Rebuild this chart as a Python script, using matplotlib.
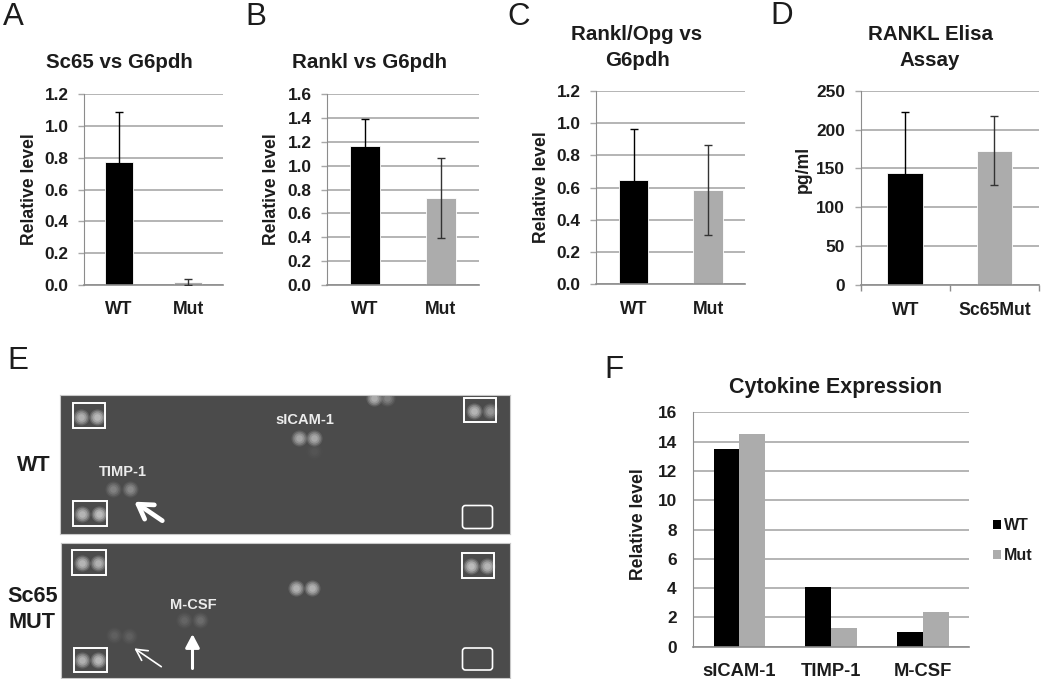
#!/usr/bin/python

import matplotlib
matplotlib.use('Agg')
import matplotlib.pyplot as plt
from matplotlib.patches import FancyBboxPatch, Rectangle

plt.rcParams['font.family'] = ['Liberation Sans', 'DejaVu Sans']

W, H = 1050, 679

BLACK = '#000000'
GREY = '#acacac'
GRID = '#a8a8a8'
AXIS = '#8c8c8c'
INK = '#1c1c1c'
BLOT = '#4b4b4b'

# bar panels
a_cats = ['WT', 'Mut']
a_vals = [0.775, 0.015]
a_errs = [0.315, 0.02]
a_ticks = [0.0, 0.2, 0.4, 0.6, 0.8, 1.0, 1.2]

b_cats = ['WT', 'Mut']
b_vals = [1.165, 0.73]
b_errs = [0.23, 0.335]
b_ticks = [0.0, 0.2, 0.4, 0.6, 0.8, 1.0, 1.2, 1.4, 1.6]

c_cats = ['WT', 'Mut']
c_vals = [0.645, 0.585]
c_errs = [0.32, 0.28]
c_ticks = [0.0, 0.2, 0.4, 0.6, 0.8, 1.0, 1.2]

d_cats = ['WT', 'Sc65Mut']
d_vals = [144, 173]
d_errs = [78, 44]
d_ticks = [0, 50, 100, 150, 200, 250]

# cytokine panel
f_cats = ['sICAM-1', 'TIMP-1', 'M-CSF']
f_wt = [13.5, 4.05, 1.0]
f_mut = [14.5, 1.25, 2.4]
f_ticks = [0, 2, 4, 6, 8, 10, 12, 14, 16]

# blot spots, image pixels: x, y, brightness
wt_spots = [(80.5, 417.5, 0.8), (97, 417.5, 0.9), (82, 513.5, 0.85), (98.5, 513.5, 0.95),
            (473.5, 411.5, 0.85), (489.5, 411.5, 0.5), (298.5, 438.5, 0.65), (314, 438.5, 0.7),
            (113, 488.5, 0.35), (129.5, 488.5, 0.4), (374, 398.5, 0.75), (387, 398, 0.35),
            (313.5, 451, 0.06)]
mut_spots = [(81.5, 563.5, 0.85), (98, 563.5, 0.8), (81.5, 660, 0.8), (97.5, 660, 0.9),
             (470.5, 566, 0.95), (486.5, 566, 0.85), (295.5, 588.5, 0.8), (311.5, 588.5, 0.8),
             (184, 620, 0.15), (199.5, 620, 0.2), (113.5, 635.5, 0.12), (128.5, 636, 0.12)]
wt_boxes = [(72.5, 403.5, 32, 24.5), (73, 500.5, 33.5, 25.5), (463.5, 398, 32, 24.5)]
mut_boxes = [(72, 550, 33.5, 25), (73.5, 648, 33, 24.5), (461.5, 553.5, 32, 24.5)]
wt_empty = (462.5, 505.5, 30, 23)
mut_empty = (462.5, 648, 30, 22)


def px_axes(fig, left, right, top, bottom):
    return fig.add_axes([left / W, 1 - bottom / H, (right - left) / W, (bottom - top) / H])


def px_text(fig, x, y, s, **kw):
    kw.setdefault('ha', 'center')
    kw.setdefault('va', 'center')
    kw.setdefault('color', INK)
    fig.text(x / W, 1 - y / H, s, **kw)


def style_axes(ax, ticks, fmt, cat_pos, cats, xsize=12.7):
    ax.set_ylim(ticks[0], ticks[-1])
    ax.set_yticks(ticks)
    ax.set_yticklabels([fmt.format(t) for t in ticks], fontsize=12.4, fontweight='bold', color=INK)
    ax.set_xticks(cat_pos)
    ax.set_xticklabels(cats, fontsize=xsize, fontweight='bold', color=INK)
    ax.tick_params(axis='x', length=0, pad=12)
    ax.tick_params(axis='y', length=4.3, width=1, color=GRID, pad=7)
    ax.grid(axis='y', color=GRID, linewidth=1.2)
    ax.set_axisbelow(True)
    for side in ('top', 'right'):
        ax.spines[side].set_visible(False)
    ax.spines['left'].set_color(AXIS)
    ax.spines['bottom'].set_color(AXIS)
    ax.spines['bottom'].set_linewidth(1.2)


def bar_panel(fig, rect, cats, vals, errs, ticks, fmt, ylabel, label_x, label_y):
    ax = px_axes(fig, *rect)
    pos = list(range(len(cats)))
    ax.bar(pos, vals, width=0.4, color=[BLACK, GREY], edgecolor='white', linewidth=0.6, zorder=2)
    # black on the WT bar so the lower half stays hidden in it
    ax.errorbar(pos[:1], vals[:1], yerr=errs[:1], fmt='none', ecolor=BLACK, elinewidth=1,
                capsize=3, capthick=1, zorder=3)
    ax.errorbar(pos[1:], vals[1:], yerr=errs[1:], fmt='none', ecolor='#333333', elinewidth=1,
                capsize=3, capthick=1, zorder=3)
    ax.set_xlim(-0.5, 1.5)
    style_axes(ax, ticks, fmt, pos, cats)
    px_text(fig, label_x, label_y, ylabel, rotation=90, fontsize=12.7, fontweight='bold')
    return ax


def blot_panel(fig, rect, spots, boxes, empty):
    left, right, top, bottom = rect
    ax = px_axes(fig, left, right, top, bottom)
    ax.set_xlim(left, right)
    ax.set_ylim(bottom, top)
    ax.set_facecolor(BLOT)
    ax.set_xticks([])
    ax.set_yticks([])
    for s in ax.spines.values():
        s.set_color('#c8c8c8')
        s.set_linewidth(0.8)
    # soft spots: stacked discs getting lighter to the centre
    for x, y, b in spots:
        for size, alpha in ((135, 0.2), (95, 0.3), (55, 0.42), (22, 0.45)):
            ax.scatter([x], [y], s=size, color='#d8d8d8', alpha=alpha * b, linewidths=0, zorder=2)
    for x, y, w, h in boxes:
        ax.add_patch(Rectangle((x, y), w, h, fill=False, edgecolor='white', linewidth=1.4, zorder=4))
    x, y, w, h = empty
    ax.add_patch(FancyBboxPatch((x + 3, y + 3), w - 6, h - 6, boxstyle='round,pad=3',
                                fill=False, edgecolor='white', linewidth=1.2, zorder=4))
    return ax


def main():
    fig = plt.figure(figsize=(W / 100, H / 100), dpi=100, facecolor='white')

    bar_panel(fig, (84.3, 223, 94.3, 284.7), a_cats, a_vals, a_errs, a_ticks, '{:.1f}', 'Relative level', 29, 189.5)
    bar_panel(fig, (327.3, 478.7, 94.3, 284.7), b_cats, b_vals, b_errs, b_ticks, '{:.1f}', 'Relative level', 272, 189.5)
    bar_panel(fig, (596.3, 745.3, 90.7, 284.3), c_cats, c_vals, c_errs, c_ticks, '{:.1f}', 'Relative level', 542, 187.5)
    ax = bar_panel(fig, (860.7, 1039, 90.7, 285), d_cats, d_vals, d_errs, d_ticks, '{:d}', 'pg/ml', 803.5, 169)
    ax.set_xticks([-0.5, 0.5, 1.5], minor=True)
    ax.tick_params(axis='x', which='minor', length=4, width=1, color=AXIS)

    title = dict(fontsize=14.8, fontweight='bold')
    px_text(fig, 119.5, 62, 'Sc65 vs G6pdh', **title)
    px_text(fig, 369, 62, 'Rankl vs G6pdh', **title)
    px_text(fig, 637, 35, 'Rankl/Opg vs', **title)
    px_text(fig, 637, 60, 'G6pdh', **title)
    px_text(fig, 930, 35, 'RANKL Elisa', **title)
    px_text(fig, 930, 60, 'Assay', **title)

    letter = dict(fontsize=22.5)
    px_text(fig, 13.5, 17, 'A', **letter)
    px_text(fig, 255.5, 17, 'B', **letter)
    px_text(fig, 519, 17, 'C', **letter)
    px_text(fig, 782, 16, 'D', **letter)
    px_text(fig, 17.5, 361, 'E', **letter)
    px_text(fig, 614, 370, 'F', **letter)

    # blots
    blot_wt = blot_panel(fig, (60.3, 510, 394.7, 534), wt_spots, wt_boxes, wt_empty)
    blot_mut = blot_panel(fig, (61.3, 510, 543.3, 678.3), mut_spots, mut_boxes, mut_empty)

    blot_wt.annotate('', xy=(134.3, 501.7), xytext=(162.3, 520.7),
                     arrowprops=dict(arrowstyle='->,head_width=0.62,head_length=1.0', color='white',
                                     lw=3.4, shrinkA=0, shrinkB=0), zorder=5)
    blot_mut.annotate('', xy=(134.3, 648.3), xytext=(161.3, 666.7),
                      arrowprops=dict(arrowstyle='->,head_width=0.42,head_length=0.8', color='white',
                                      lw=1.2, shrinkA=0, shrinkB=0), zorder=5)
    blot_mut.annotate('', xy=(192.5, 634), xytext=(192.5, 668.5),
                      arrowprops=dict(arrowstyle='-|>,head_width=0.42,head_length=0.8', color='white',
                                      lw=2.2, shrinkA=0, shrinkB=0), zorder=5)

    spot_label = dict(fontsize=10.5, fontweight='bold', color='#ececec', zorder=6)
    px_text(fig, 304.5, 419.5, 'sICAM-1', **spot_label)
    px_text(fig, 123, 471.5, 'TIMP-1', **spot_label)
    px_text(fig, 193.5, 605, 'M-CSF', **spot_label)

    side = dict(fontsize=15.6, fontweight='bold')
    px_text(fig, 34, 465.5, 'WT', **side)
    px_text(fig, 32.5, 597, 'Sc65', **side)
    px_text(fig, 31.5, 622.5, 'MUT', **side)

    # cytokine chart
    ax = px_axes(fig, 693.3, 969, 412.3, 646.7)
    pos = list(range(len(f_cats)))
    ax.bar([p - 0.14 for p in pos], f_wt, width=0.28, color=BLACK, label='WT', zorder=2)
    ax.bar([p + 0.14 for p in pos], f_mut, width=0.28, color=GREY, label='Mut', zorder=2)
    ax.set_xlim(-0.5, 2.5)
    style_axes(ax, f_ticks, '{:d}', pos, f_cats, xsize=13.2)
    ax.tick_params(axis='y', length=0, pad=12)
    px_text(fig, 638.5, 524, 'Relative level', rotation=90, fontsize=12.7, fontweight='bold')
    px_text(fig, 836, 388, 'Cytokine Expression', fontsize=15.5, fontweight='bold')
    ax.legend(loc='center left', bbox_to_anchor=(1.087, 0.453), frameon=False,
              prop=dict(size=11.5, weight='bold'), labelcolor=INK, handlelength=0.5,
              handleheight=0.5, handletextpad=0.2, labelspacing=0.95, borderpad=0, borderaxespad=0)

    fig.savefig('out.png', dpi=100)


if __name__ == '__main__':
    main()
